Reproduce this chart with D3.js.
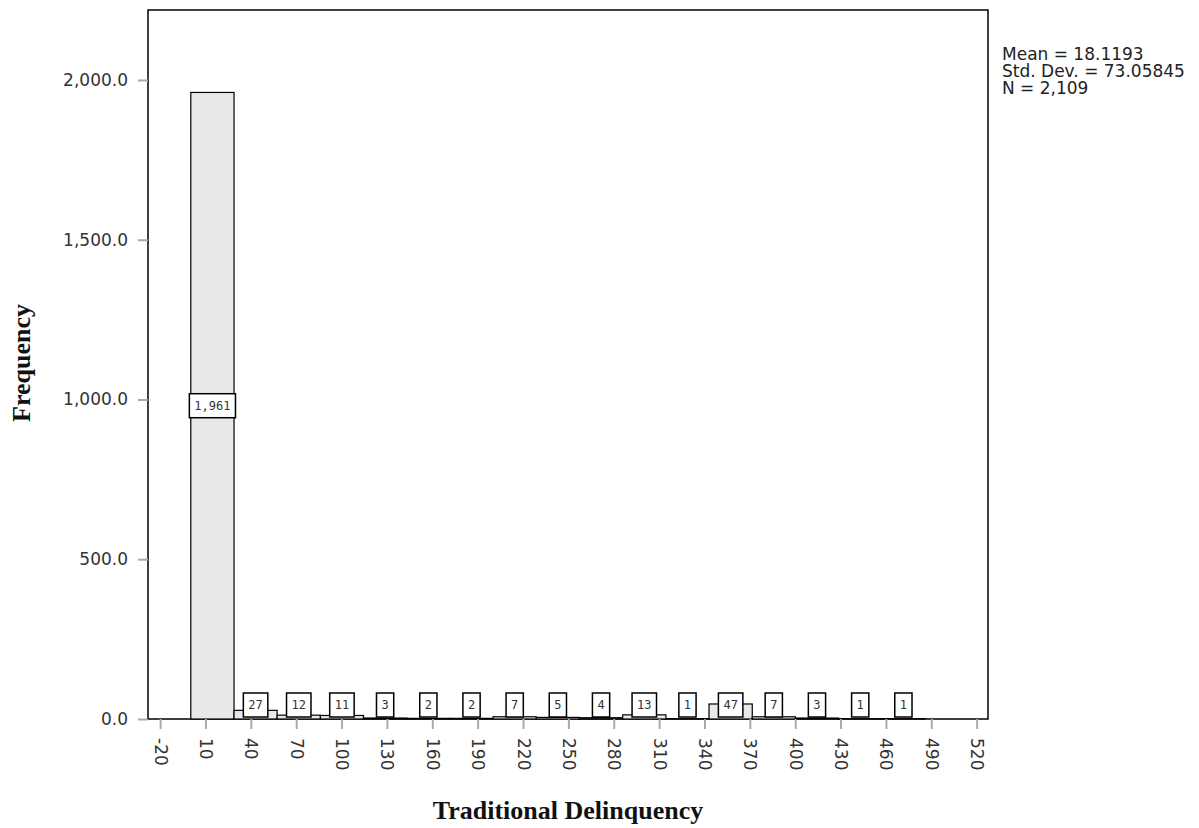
<!DOCTYPE html>
<html>
<head>
<meta charset="utf-8">
<script src="https://cdn.jsdelivr.net/npm/d3@7"></script>
<style>
  body { margin: 0; background: #fff; }
  .tick text { font-family: "DejaVu Sans", sans-serif; font-size: 17px; fill: #333; }
  .tick line { stroke: #aaa; stroke-width: 2; }
  .axis-title { font-family: "Liberation Serif", "Times New Roman", serif; font-weight: bold; font-size: 26px; fill: #111; }
  .stats { font-family: "DejaVu Sans", sans-serif; font-size: 17px; fill: #222; }
  .bar-label { font-family: "DejaVu Sans Mono", monospace; font-size: 12px; fill: #333; }
</style>
</head>
<body>
<div id="chart"></div>
<script>
// histogram bins (lower edges + final upper edge) and counts
const binEdges = [0.3, 28.9, 57.4, 86.0, 114.5, 143.1, 171.7, 200.2, 228.8, 257.3,
                  285.9, 314.5, 343.0, 371.6, 400.1, 428.7, 457.3, 485.8];
const binCounts = [1961, 27, 12, 11, 3, 2, 2, 7, 5, 4, 13, 1, 47, 7, 3, 1, 1];

// axis ticks
const xTicks = [-20, 10, 40, 70, 100, 130, 160, 190, 220, 250, 280, 310, 340, 370, 400, 430, 460, 490, 520];
const yTicks = [0, 500, 1000, 1500, 2000];
const xDomain = [-28, 527.5];
const yDomain = [0, 2219];

const statsLines = ["Mean = 18.1193", "Std. Dev. = 73.05845", "N = 2,109"];

const width = 1199, height = 828;
const plot = { left: 148, right: 988, top: 10, bottom: 719 };

const svg = d3.select("#chart").append("svg")
    .attr("width", width)
    .attr("height", height);

const x = d3.scaleLinear().domain(xDomain).range([plot.left, plot.right]);
const y = d3.scaleLinear().domain(yDomain).range([plot.bottom, plot.top]);

const bins = binCounts.map((c, i) => ({ x0: binEdges[i], x1: binEdges[i + 1], count: c }));

// frame
svg.append("rect")
    .attr("x", plot.left).attr("y", plot.top)
    .attr("width", plot.right - plot.left).attr("height", plot.bottom - plot.top)
    .attr("fill", "#fff").attr("stroke", "#000").attr("stroke-width", 1.5);

// bars
svg.append("g").selectAll("rect")
    .data(bins)
    .enter().append("rect")
    .attr("x", d => x(d.x0))
    .attr("width", d => x(d.x1) - x(d.x0))
    .attr("y", d => y(d.count))
    .attr("height", d => y(0) - y(d.count))
    .attr("fill", "#e8e8e8")
    .attr("stroke", "#000")
    .attr("stroke-width", 1.2);

// count labels in boxes (kept above the baseline for short bars)
const labels = svg.append("g").selectAll("g")
    .data(bins)
    .enter().append("g")
    .attr("transform", d => {
        const cx = x((d.x0 + d.x1) / 2);
        const cy = Math.min(y(d.count / 2), y(0) - 14);
        return `translate(${cx},${cy})`;
    });

labels.append("rect").attr("class", "box");
labels.append("text")
    .attr("class", "bar-label")
    .attr("text-anchor", "middle")
    .attr("dy", "0.35em")
    .text(d => d3.format(",")(d.count));

labels.each(function () {
    const g = d3.select(this);
    const w = g.select("text").node().getComputedTextLength() + 10;
    g.select("rect")
        .attr("x", -w / 2).attr("y", -12)
        .attr("width", w).attr("height", 24)
        .attr("fill", "#fff").attr("stroke", "#000").attr("stroke-width", 1.5);
});

// y axis
const yAxis = svg.append("g")
    .attr("transform", `translate(${plot.left},0)`)
    .call(d3.axisLeft(y).tickValues(yTicks).tickSize(10).tickPadding(10).tickFormat(d3.format(",.1f")));
yAxis.select(".domain").remove();

// x axis
const xAxis = svg.append("g")
    .attr("transform", `translate(0,${plot.bottom})`)
    .call(d3.axisBottom(x).tickValues(xTicks).tickSize(10).tickFormat(d => String(d)));
xAxis.select(".domain").remove();
xAxis.selectAll(".tick text")
    .attr("transform", "rotate(90)")
    .attr("x", 19).attr("y", 0).attr("dy", "0.35em")
    .attr("text-anchor", "start");

// axis titles
svg.append("text")
    .attr("class", "axis-title")
    .attr("x", (plot.left + plot.right) / 2)
    .attr("y", 819)
    .attr("text-anchor", "middle")
    .text("Traditional Delinquency");

svg.append("text")
    .attr("class", "axis-title")
    .attr("transform", "translate(30,363) rotate(-90)")
    .attr("text-anchor", "middle")
    .text("Frequency");

// summary stats
svg.append("g").selectAll("text")
    .data(statsLines)
    .enter().append("text")
    .attr("class", "stats")
    .attr("x", 1002)
    .attr("y", (d, i) => 60 + i * 17)
    .text(d => d);
</script>
</body>
</html>
